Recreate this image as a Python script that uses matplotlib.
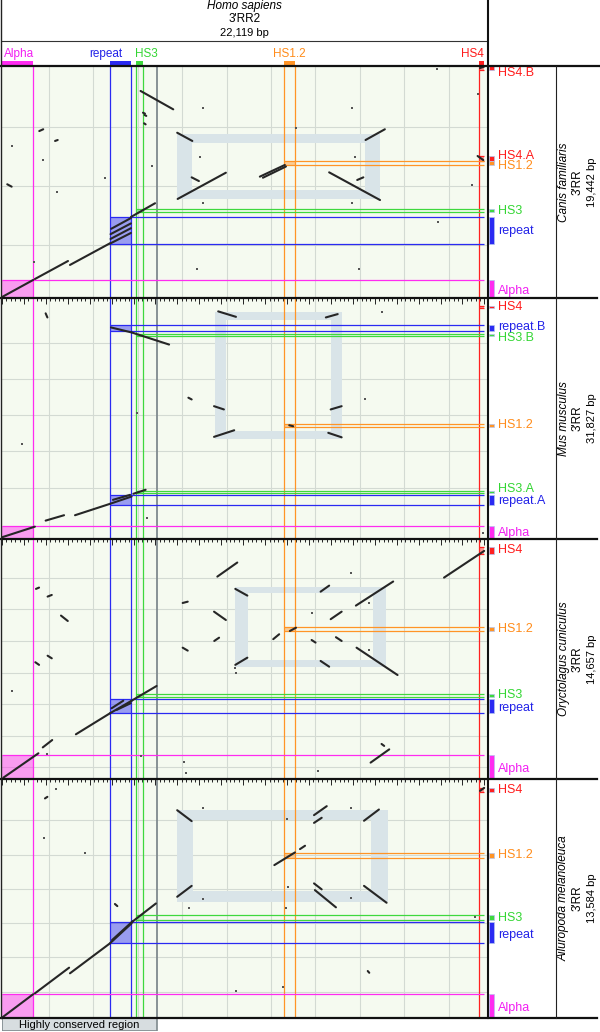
import matplotlib.pyplot as plt
from matplotlib.patches import Rectangle
from matplotlib.ticker import MultipleLocator

plt.rcParams['font.family'] = ['Liberation Sans', 'DejaVu Sans']

# ------------------------------
# Homo sapiens 3'RR2 (eje x, kb)
# ------------------------------
human_len = 22.119
human_feats = ['Alpha', 'repeat', 'HS3', 'HS1.2', 'HS4']
human_start = [0.0, 4.92, 6.10, 12.87, 21.77]
human_end = [1.42, 5.88, 6.42, 13.36, 21.99]
header_label_x = [0.08, 4.73, 6.08, 13.11, 21.99]
header_label_ha = ['left', 'center', 'left', 'center', 'right']
conserved_end = 7.07
x_grid = [2.14, 4.17, 6.19, 8.22, 10.24, 12.27, 14.29, 16.32, 18.34, 20.37]

species = ['Canis familiaris', 'Mus musculus', 'Oryctolagus cuniculus', 'Ailuropoda melanoleuca']
species_len = [19.442, 31.827, 14.657, 13.584]
species_bp = ['19,442 bp', '31,827 bp', '14,657 bp', '13,584 bp']

# Canis familiaris
canis_feats = ['HS4.B', 'HS4.A', 'HS1.2', 'HS3', 'repeat', 'Alpha']
canis_start = [19.10, 11.48, 11.12, 7.18, 4.50, 0.0]
canis_end = [19.44, 11.92, 11.46, 7.43, 6.76, 1.48]
canis_label_dy = [-3.5, 2.0, -2.0, 0.0, 0.0, -1.5]
canis_grid = [4.44, 9.41, 14.35]
canis_frame = [7.97, 17.24, 8.32, 13.74]
canis_band = [0.68, 0.73]
canis_segs = [
    (0.0, 0.08, 1.42, 1.51), (1.50, 1.59, 3.01, 3.10), (3.10, 2.77, 4.92, 4.58),
    (4.92, 4.55, 5.88, 5.45), (4.95, 4.95, 5.88, 5.85), (4.95, 5.35, 5.88, 6.25),
    (4.98, 5.80, 5.88, 6.70), (5.88, 6.79, 6.98, 7.94),
    (6.32, 17.35, 7.81, 15.81), (6.43, 15.53, 6.52, 15.45), (6.48, 14.64, 6.55, 14.55),
    (6.50, 15.34, 6.58, 15.26), (1.70, 13.99, 1.88, 14.14), (2.42, 13.16, 2.54, 13.24),
    (0.24, 9.53, 0.44, 9.33), (7.99, 13.85, 8.68, 13.16), (8.65, 10.11, 8.98, 9.80),
    (8.01, 8.30, 10.21, 10.50), (11.76, 10.17, 12.90, 11.15), (11.90, 10.08, 12.95, 11.02),
    (16.58, 13.24, 17.46, 14.14), (14.92, 10.53, 17.24, 8.21), (16.20, 9.89, 16.48, 10.11),
    (21.80, 19.27, 21.98, 19.38), (21.69, 11.90, 21.95, 11.56),
]
canis_dots = [
    (0.44, 12.74), (1.88, 11.56), (2.52, 8.91), (4.70, 10.03), (6.83, 11.09),
    (9.18, 15.95), (9.03, 11.79), (9.18, 7.99), (8.88, 2.41), (1.47, 3.04),
    (13.41, 14.27), (15.95, 15.95), (16.10, 11.79), (15.95, 7.99), (19.85, 19.17),
    (21.69, 17.07), (21.45, 9.47), (19.90, 6.34), (16.28, 2.41),
]

# Mus musculus
mus_feats = ['HS4', 'repeat.B', 'HS3.B', 'HS1.2', 'HS3.A', 'repeat.A', 'Alpha']
mus_start = [30.54, 27.41, 26.76, 14.85, 6.03, 4.47, 0.0]
mus_end = [30.80, 28.20, 27.12, 15.21, 6.36, 5.83, 1.68]
mus_label_dy = [0.0, 0.7, -2.3, 0.0, 2.3, -0.7, 0.0]
mus_grid = [6.72, 11.58, 16.35, 21.18, 25.82]
mus_frame = [9.71, 15.49, 13.22, 30.01]
mus_band = [0.50, 1.06]
mus_segs = [
    (0.0, 0.23, 1.50, 1.63), (1.99, 2.43, 2.83, 3.14), (3.33, 3.14, 4.92, 4.64),
    (4.92, 4.64, 5.91, 5.61), (5.06, 5.17, 5.84, 5.83), (5.99, 5.97, 6.55, 6.50),
    (4.97, 27.94, 5.91, 27.28), (5.91, 27.28, 7.62, 25.68), (1.99, 29.80, 2.07, 29.26),
    (8.50, 18.66, 8.65, 18.43), (9.86, 30.06, 10.67, 29.34), (9.67, 17.54, 10.12, 17.11),
    (9.67, 13.49, 10.59, 14.36), (14.77, 29.26, 15.31, 29.70), (14.99, 17.11, 15.49, 17.54),
    (14.88, 14.02, 15.49, 13.43), (13.10, 15.02, 13.28, 14.89),
]
mus_dots = [(0.90, 12.56), (6.14, 16.67), (6.63, 2.74), (17.31, 29.93), (16.55, 18.52), (21.95, 0.84)]

# Oryctolagus cuniculus
oryc_feats = ['HS4', 'HS1.2', 'HS3', 'repeat', 'Alpha']
oryc_start = [13.73, 9.04, 5.01, 4.01, 0.0]
oryc_end = [14.19, 9.31, 5.18, 4.89, 1.45]
oryc_label_dy = [0.0, 0.0, 0.5, -1.2, -1.0]
oryc_grid = [0.71, 2.63, 4.56, 6.50, 8.43, 10.39, 12.30]
oryc_frame = [10.64, 17.52, 6.86, 11.73]
oryc_band = [0.60, 0.40]
oryc_segs = [
    (0.06, 0.08, 1.66, 1.57), (1.86, 1.93, 2.29, 2.38), (3.37, 2.73, 4.92, 4.01),
    (4.92, 4.01, 5.91, 4.78), (5.00, 4.32, 5.53, 4.78), (5.23, 4.22, 5.87, 4.63),
    (5.91, 4.78, 7.05, 5.68), (1.55, 11.61, 1.69, 11.69), (2.08, 11.14, 2.27, 11.24),
    (2.69, 9.98, 3.00, 9.65), (2.08, 7.53, 2.27, 7.37), (1.52, 7.13, 1.69, 6.97),
    (8.24, 10.75, 8.47, 10.83), (8.24, 8.02, 8.47, 7.84), (9.67, 10.22, 10.21, 9.71),
    (9.68, 8.43, 9.90, 8.63), (9.82, 12.36, 10.73, 13.22), (10.64, 11.61, 11.19, 11.20),
    (10.64, 6.97, 11.19, 7.41), (12.37, 8.54, 12.64, 8.84), (13.13, 9.04, 13.41, 9.24),
    (14.53, 11.44, 14.92, 11.81), (14.99, 9.76, 15.49, 10.22), (14.12, 8.49, 14.30, 8.33),
    (15.23, 8.66, 15.49, 8.43), (14.53, 7.21, 14.92, 6.86), (16.14, 10.59, 17.84, 12.06),
    (16.17, 8.02, 18.04, 6.35), (20.16, 12.30, 21.99, 13.93), (16.81, 1.00, 17.66, 1.81),
    (17.31, 2.14, 17.43, 2.02),
]
oryc_dots = [
    (0.47, 5.38), (8.31, 1.06), (8.38, 0.35), (10.64, 6.76), (10.66, 6.50), (6.35, 1.41),
    (14.40, 0.49), (16.74, 10.77), (16.74, 7.88), (14.15, 10.16), (2.04, 1.51), (15.91, 12.57),
]

# Ailuropoda melanoleuca
ailu_feats = ['HS4', 'HS1.2', 'HS3', 'repeat', 'Alpha']
ailu_start = [12.82, 9.09, 5.55, 4.24, 0.0]
ailu_end = [13.10, 9.39, 5.83, 5.45, 1.35]
ailu_label_dy = [0.0, 0.0, 0.0, -1.9, -1.7]
ailu_grid = [1.49, 3.45, 5.38, 7.31, 9.26, 11.25]
ailu_frame = [7.97, 17.59, 6.62, 11.84]
ailu_band = [0.75, 0.60]
ailu_segs = [
    (0.0, 0.02, 1.42, 1.35), (1.50, 1.40, 3.06, 2.86), (3.10, 2.54, 4.92, 4.24),
    (4.92, 4.24, 5.91, 5.38), (5.02, 4.43, 5.97, 5.51), (5.91, 5.44, 7.02, 6.51),
    (5.15, 6.48, 5.26, 6.36), (1.96, 12.48, 2.07, 12.57), (7.99, 11.81, 8.65, 11.19),
    (7.99, 6.89, 8.65, 7.51), (12.42, 8.69, 13.36, 9.41), (14.23, 11.53, 14.81, 12.04),
    (14.23, 11.09, 14.58, 11.38), (16.51, 11.21, 17.19, 11.85), (13.59, 9.60, 13.82, 9.79),
    (14.23, 7.65, 14.58, 7.31), (14.27, 7.27, 15.23, 6.29), (16.51, 7.51, 17.54, 6.55),
    (16.68, 2.67, 16.75, 2.57), (21.80, 12.91, 21.99, 13.08),
]
ailu_dots = [
    (2.45, 13.01), (1.93, 10.21), (3.78, 9.36), (9.18, 11.91), (9.18, 6.76), (8.54, 6.23),
    (12.95, 6.23), (12.80, 1.74), (10.66, 1.55), (15.91, 11.95), (15.91, 6.80), (21.57, 5.72),
    (12.98, 11.29), (13.06, 7.46),
]

panels = [
    (canis_feats, canis_start, canis_end, canis_label_dy, canis_grid, canis_frame, canis_band, canis_segs, canis_dots),
    (mus_feats, mus_start, mus_end, mus_label_dy, mus_grid, mus_frame, mus_band, mus_segs, mus_dots),
    (oryc_feats, oryc_start, oryc_end, oryc_label_dy, oryc_grid, oryc_frame, oryc_band, oryc_segs, oryc_dots),
    (ailu_feats, ailu_start, ailu_end, ailu_label_dy, ailu_grid, ailu_frame, ailu_band, ailu_segs, ailu_dots),
]

# colores
feat_color = {'Alpha': '#ff2bf0', 'repeat': '#2a2af2', 'HS3': '#3ed83e', 'HS1.2': '#ff9426', 'HS4': '#ff2020'}
text_color = {'Alpha': '#f21ef2', 'repeat': '#2222e8', 'HS3': '#33d633', 'HS1.2': '#ff8c1a', 'HS4': '#ff1a1a'}
bg_color = '#f5faf0'
grid_color = '#d3dad3'
frame_color = '#d9e4e8'
cons_color = '#7f8a8e'

# ------------------------------
# Figura
# ------------------------------
W, H = 600, 1032
fig = plt.figure(figsize=(W / 100, H / 100), dpi=100)
panel_top = [66, 298, 539, 779]
panel_bottom = [298, 539, 779, 1018]


def px_axes(l, t, r, b):
    return fig.add_axes([l / W, 1 - b / H, (r - l) / W, (b - t) / H])


def base_name(nombre):
    return nombre if nombre in human_feats else nombre.rsplit('.', 1)[0]


for k, (feats, fs, fe, ldy, grid, frame, band, segs, dots) in enumerate(panels):
    top, bottom = panel_top[k], panel_bottom[k]
    L = species_len[k]

    ax = px_axes(2, top, 487, bottom)
    ax.set_xlim(0, human_len)
    ax.set_ylim(0, L)
    ax.set_facecolor(bg_color)
    for sp in ax.spines.values():
        sp.set_visible(False)
    ax.set_yticks([])
    if k > 0:
        ax.xaxis.set_major_locator(MultipleLocator(1))
        ax.xaxis.set_minor_locator(MultipleLocator(0.2))
        ax.tick_params(axis='x', which='both', top=True, bottom=False, labeltop=False,
                       labelbottom=False, direction='in', color='#222222', width=0.7)
        ax.tick_params(axis='x', which='major', length=4.5)
        ax.tick_params(axis='x', which='minor', length=2.5)
    else:
        ax.set_xticks([])

    # rejilla
    for gx in x_grid:
        ax.axvline(gx, color=grid_color, lw=0.8, zorder=1)
    for gy in grid:
        ax.axhline(gy, color=grid_color, lw=0.8, zorder=1)

    # marco gris (estructura palindrómica)
    x0, x1, y0, y1 = frame
    bx, by = band
    for (rx0, ry0, rw, rh) in [(x0, y0, x1 - x0, by), (x0, y1 - by, x1 - x0, by),
                               (x0, y0 + by, bx, y1 - y0 - 2 * by), (x1 - bx, y0 + by, bx, y1 - y0 - 2 * by)]:
        ax.add_patch(Rectangle((rx0, ry0), rw, rh, facecolor=frame_color, edgecolor='none', zorder=1.5))

    # líneas verticales de los elementos humanos
    for f, s, e in zip(human_feats, human_start, human_end):
        if s > 0:
            ax.axvline(s, color=feat_color[f], lw=0.9, zorder=3)
        if e < human_len - 0.2:
            ax.axvline(e, color=feat_color[f], lw=0.9, zorder=3)
    ax.axvline(conserved_end, color=cons_color, lw=1.3, zorder=3)

    # líneas horizontales + cajas de intersección
    for f, s, e in zip(feats, fs, fe):
        b = base_name(f)
        i = human_feats.index(b)
        c = feat_color[b]
        xs = human_start[i]
        for yv in (s, e):
            if 0 < yv < L - 0.05:
                ax.hlines(yv, xs, human_end[-1], color=c, lw=0.9, zorder=3)
        ax.add_patch(Rectangle((xs, s), human_end[i] - xs, e - s, facecolor=c, alpha=0.45,
                               edgecolor='none', zorder=2))

    # alineamientos
    for (sx0, sy0, sx1, sy1) in segs:
        ax.plot([sx0, sx1], [sy0, sy1], color='#262626', lw=1.5, solid_capstyle='round', zorder=4)
    ax.plot([d[0] for d in dots], [d[1] for d in dots], 's', ms=1.6, mew=0, color='#555555', zorder=4)

    # columna de etiquetas
    rx = px_axes(487, top, 556, bottom)
    rx.set_xlim(0, 69)
    rx.set_ylim(0, L)
    rx.axis('off')
    for f, s, e, d in zip(feats, fs, fe, ldy):
        b = base_name(f)
        rx.add_patch(Rectangle((2, s), 5, e - s, facecolor=feat_color[b], edgecolor='#b3c4ee', lw=0.5))
        rx.annotate(f, (11, (s + e) / 2), xytext=(0, d), textcoords='offset points',
                    color=text_color[b], fontsize=9, ha='left', va='center')

    # columna de especie
    sx = px_axes(556, top, 597, bottom)
    sx.set_xlim(0, 41)
    sx.set_ylim(0, 1)
    sx.axis('off')
    sx.text(8, 0.5, species[k], rotation=90, style='italic', fontsize=8.5, ha='center', va='center')
    sx.text(21.7, 0.5, "3'RR", rotation=90, fontsize=8.5, ha='center', va='center')
    sx.text(35.7, 0.5, species_bp[k], rotation=90, fontsize=8, ha='center', va='center')

# cabecera con los elementos humanos
hx = px_axes(2, 41, 487, 66)
hx.set_xlim(0, human_len)
hx.set_ylim(0, 25)
hx.axis('off')
for f, s, e, lx, ha in zip(human_feats, human_start, human_end, header_label_x, header_label_ha):
    hx.add_patch(Rectangle((s, 0), e - s, 5.5, facecolor=feat_color[f], edgecolor='none'))
    hx.text(lx, 12, f, color=text_color[f], fontsize=8.5, ha=ha, va='center')

# región conservada
cx = px_axes(2, 1018, 487, 1031)
cx.set_xlim(0, human_len)
cx.set_ylim(0, 1)
cx.axis('off')
cx.add_patch(Rectangle((0, 0), conserved_end, 1, facecolor='#d7dde0', edgecolor=cons_color, lw=1.2))
cx.text(conserved_end / 2, 0.5, 'Highly conserved region', fontsize=8, ha='center', va='center')

# marcos y títulos
ov = fig.add_axes([0, 0, 1, 1], zorder=10)
ov.set_xlim(0, W)
ov.set_ylim(H, 0)
ov.axis('off')
ov.text(244.5, 6, 'Homo sapiens', style='italic', fontsize=8.5, ha='center', va='center')
ov.text(244.5, 19, "3'RR2", fontsize=8.5, ha='center', va='center')
ov.text(244.5, 32.5, '22,119 bp', fontsize=8, ha='center', va='center')
ov.plot([2, 487], [40.7, 40.7], color='#333333', lw=0.8)
ov.plot([0, 600], [66, 66], color='#111111', lw=1.6)
for yb in panel_bottom:
    ov.plot([0, 597], [yb, yb], color='#111111', lw=1.6)
ov.plot([487.5, 487.5], [0, 1018], color='#111111', lw=1.5)
ov.plot([1.2, 1.2], [0, 1018], color='#222222', lw=1.0)
ov.plot([556, 556], [66, 1018], color='#222222', lw=0.8)

fig.savefig('out.png', dpi=100)
